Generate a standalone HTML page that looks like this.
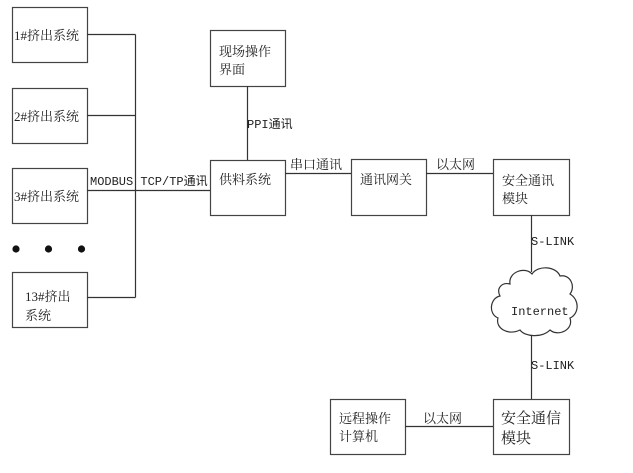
<!DOCTYPE html>
<html><head><meta charset="utf-8"><style>
html,body{margin:0;padding:0;background:#fff;}
svg{display:block;}
text{font-family:"Liberation Serif","Noto Serif CJK SC","Noto Sans CJK SC",serif;font-size:13px;fill:#222;}
.m{font-family:"Liberation Mono","Noto Sans CJK SC",monospace;font-size:12px;}
</style></head><body>
<svg width="633" height="473" viewBox="0 0 633 473" xmlns="http://www.w3.org/2000/svg">
<g fill="#fff" stroke="#444" stroke-width="1.2">
<rect x="12.5" y="7.5" width="75" height="55"/>
<rect x="12.5" y="88.5" width="75" height="55"/>
<rect x="12.5" y="168.5" width="75" height="55"/>
<rect x="12.5" y="272.5" width="75" height="55"/>
<rect x="210.5" y="30.5" width="75" height="56"/>
<rect x="210.5" y="160.5" width="75" height="55"/>
<rect x="351.5" y="159.5" width="75" height="56"/>
<rect x="493.5" y="159.5" width="76" height="56"/>
<rect x="493.5" y="399.5" width="76" height="55"/>
<rect x="330.5" y="399.5" width="75" height="55"/>
</g>
<g stroke="#333" stroke-width="1.2" fill="none">
<line x1="87" y1="34.5" x2="135.5" y2="34.5"/>
<line x1="87" y1="115.5" x2="135.5" y2="115.5"/>
<line x1="87" y1="190.5" x2="210" y2="190.5"/>
<line x1="87" y1="297.5" x2="135.5" y2="297.5"/>
<line x1="135.5" y1="34.5" x2="135.5" y2="297.5"/>
<line x1="247.5" y1="86" x2="247.5" y2="160"/>
<line x1="285" y1="173.5" x2="351" y2="173.5"/>
<line x1="426" y1="173.5" x2="493" y2="173.5"/>
<line x1="531.5" y1="215" x2="531.5" y2="272"/>
<line x1="531.5" y1="334" x2="531.5" y2="399"/>
<line x1="405" y1="426.5" x2="493" y2="426.5"/>
<path fill="#fff" stroke="#333" d="M510,284 C508,272 525,266 532,274 C538,265 556,266 560,276 C570,274 576,286 570,294 C580,300 579,314 570,318 C574,330 558,337 550,330 C542,338 525,337 520,330 C508,336 495,328 498,318 C488,314 490,298 500,296 C496,288 502,282 510,284 Z"/>
</g>
<g fill="#111">
<circle cx="16" cy="249" r="3.6"/><circle cx="48.5" cy="249" r="3.6"/><circle cx="81.5" cy="249" r="3.6"/>
</g>
<text x="14" y="40">1#挤出系统</text>
<text x="14" y="121">2#挤出系统</text>
<text x="14" y="201">3#挤出系统</text>
<text x="25" y="301">13#挤出</text>
<text x="25" y="320">系统</text>
<text x="219" y="56">现场操作</text>
<text x="219" y="74">界面</text>
<text class="m" x="247" y="128">PPI通讯</text>
<text class="m" x="90" y="185">MODBUS TCP/TP通讯</text>
<text x="219" y="184">供料系统</text>
<text x="290" y="169">串口通讯</text>
<text x="360" y="184">通讯网关</text>
<text x="436" y="169">以太网</text>
<text x="502" y="185">安全通讯</text>
<text x="502" y="203">模块</text>
<text class="m" x="531" y="245">S-LINK</text>
<text class="m" x="511" y="315">Internet</text>
<text class="m" x="531" y="369">S-LINK</text>
<text x="339" y="423">远程操作</text>
<text x="339" y="441">计算机</text>
<text x="423" y="423">以太网</text>
<text x="501" y="423" style="font-size:15px">安全通信</text>
<text x="501" y="443" style="font-size:15px">模块</text>
</svg>
</body></html>
